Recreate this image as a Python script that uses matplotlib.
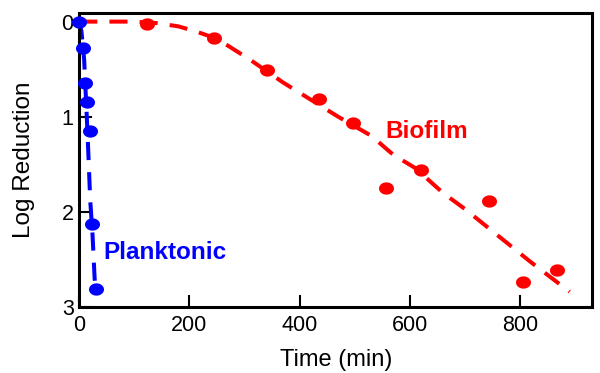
import numpy as np
import matplotlib
matplotlib.use("Agg")
import matplotlib.pyplot as plt
from matplotlib.path import Path

plt.rcParams['font.family'] = ['Liberation Sans', 'DejaVu Sans']

# planktonic data (time in min, log reduction)
plank_t = [0, 6, 11, 14, 19, 24, 30]
plank_lr = [0, 0.28, 0.65, 0.85, 1.15, 2.13, 2.81]
# dashed fit through planktonic points
plank_fit_t = [0, 4, 9, 13, 16, 20, 24, 28, 30]
plank_fit_lr = [0, 0.1, 0.4, 0.9, 1.3, 1.88, 2.22, 2.7, 2.82]

# biofilm data
bio_t = [123, 244, 341, 435, 496, 556, 620, 744, 806, 868]
bio_lr = [0.02, 0.175, 0.51, 0.81, 1.07, 1.75, 1.56, 1.89, 2.74, 2.61]
# dashed fit through biofilm points
bio_fit_t = [0, 100, 140, 180, 210, 250, 310, 370, 420, 470, 530, 570, 610, 660, 700, 760, 820, 890]
bio_fit_lr = [0, 0, 0.015, 0.05, 0.1, 0.18, 0.40, 0.64, 0.82, 1.0, 1.2, 1.40, 1.54, 1.80, 1.97, 2.25, 2.53, 2.84]

# slightly flattened round marker
th = np.linspace(0, 2 * np.pi, 60)
oval = Path(np.column_stack([np.cos(th), 0.82 * np.sin(th)]), closed=True)

fig = plt.figure(figsize=(6, 3.73), dpi=100)
ax = fig.add_axes([0.132, 0.177, 0.855, 0.788])

dash = (4.5, 3)
ax.plot(bio_fit_t, bio_fit_lr, color='#ff0000', lw=2.9, dashes=dash,
        dash_capstyle='butt', clip_on=False)
ax.plot(bio_t, bio_lr, ls='none', marker=oval, ms=10.8, color='#ff0000',
        mec='none', clip_on=False)
ax.plot(plank_fit_t, plank_fit_lr, color='#0000ff', lw=2.9, dashes=dash,
        dash_capstyle='butt', clip_on=False)
ax.plot(plank_t, plank_lr, ls='none', marker=oval, ms=10.8, color='#0000ff',
        mec='none', clip_on=False, zorder=5)

ax.text(631, 1.15, 'Biofilm', color='#ff0000', fontsize=17.5, fontweight='bold',
        ha='center', va='center')
ax.text(44, 2.43, 'Planktonic', color='#0000ff', fontsize=17.5, fontweight='bold',
        ha='left', va='center')

ax.set_xlim(0, 931)
ax.set_ylim(3, -0.09)
ax.set_xticks([0, 200, 400, 600, 800])
ax.set_yticks([0, 1, 2, 3])
ax.tick_params(direction='in', length=9, width=1.5, labelsize=15.5, top=False, right=False)
ax.tick_params(axis='x', pad=6)
ax.tick_params(axis='y', pad=4)
for s in ax.spines.values():
    s.set_linewidth(2.2)

ax.set_xlabel('Time (min)', fontsize=17, labelpad=9)
ax.set_ylabel('Log Reduction', fontsize=17.5, labelpad=19)

fig.savefig('out.png', dpi=100)
